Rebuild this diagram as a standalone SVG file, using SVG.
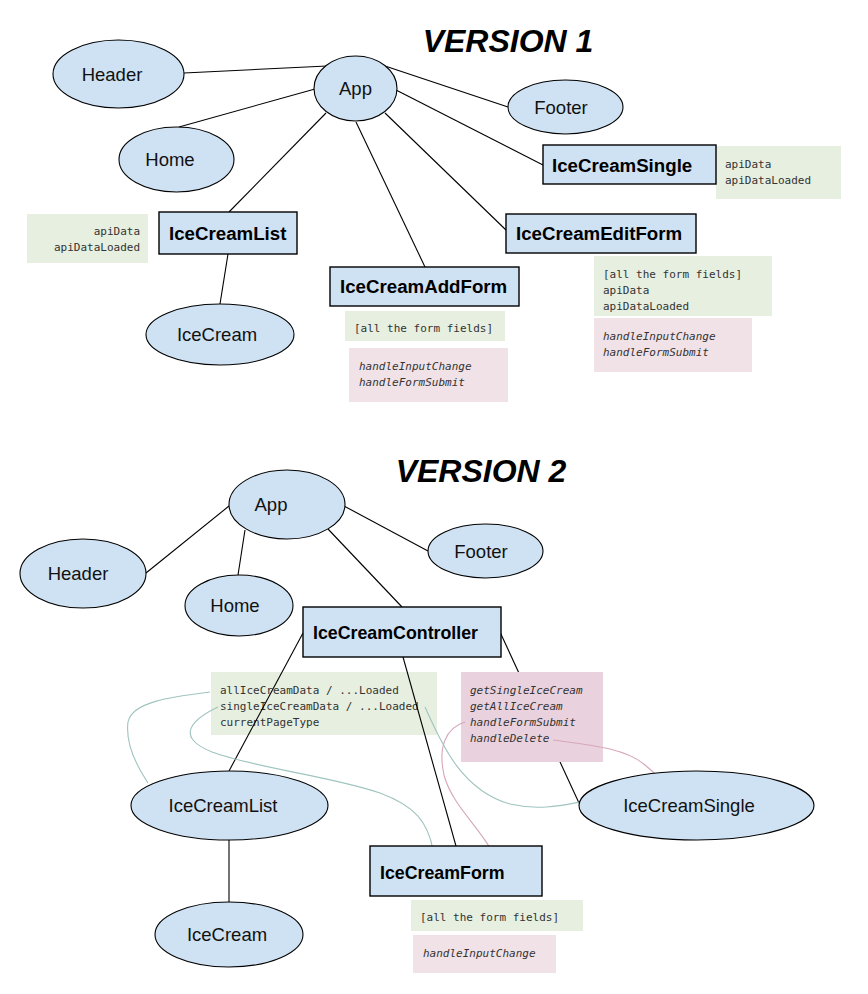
<svg xmlns="http://www.w3.org/2000/svg" width="868" height="994" viewBox="0 0 868 994">
<style>
.bg{fill:#ffffff}
.title{font-family:"Liberation Sans",Arial,sans-serif;font-weight:bold;font-style:italic;font-size:32px;fill:#000;text-anchor:middle}
.ell{fill:#cfe2f3;stroke:#000;stroke-width:1.1}
.box{fill:#cfe2f3;stroke:#000;stroke-width:1.4}
.el{font-family:"Liberation Sans",Arial,sans-serif;font-size:18.5px;fill:#111;text-anchor:middle}
.bl{font-family:"Liberation Sans",Arial,sans-serif;font-weight:bold;font-size:18.7px;fill:#000}
.bl2{font-family:"Liberation Sans",Arial,sans-serif;font-weight:bold;font-size:17.8px;fill:#000}
.grn{fill:#e6efe0}
.pnk{fill:#f1e2e7}
.pnk2{fill:#e9d2dd}
.mono{font-family:"DejaVu Sans Mono","Liberation Mono",monospace;font-size:11px;fill:#333}
.it{font-style:italic}
.ln{stroke:#000;stroke-width:1.1;fill:none}
.teal{stroke:#9fc4bf;stroke-width:1.1;fill:none}
.rose{stroke:#d6a6b8;stroke-width:1.1;fill:none}
</style>
<rect class="bg" x="0" y="0" width="868" height="994"/>

<text class="title" x="508" y="52">VERSION 1</text>
<text class="title" x="481" y="482">VERSION 2</text>

<!-- annotation boxes V1 -->
<g id="v1-notes">
  <rect class="grn" x="27" y="214" width="121" height="49"/>
  <text class="mono" x="140" y="235" text-anchor="end">apiData</text>
  <text class="mono" x="140" y="251" text-anchor="end">apiDataLoaded</text>
  <rect class="grn" x="716" y="146" width="125" height="53"/>
  <text class="mono" x="725" y="168">apiData</text>
  <text class="mono" x="725" y="184">apiDataLoaded</text>
  <rect class="grn" x="594" y="256" width="178" height="60"/>
  <text class="mono" x="603" y="278">[all the form fields]</text>
  <text class="mono" x="603" y="294">apiData</text>
  <text class="mono" x="603" y="310">apiDataLoaded</text>
  <rect class="pnk" x="594" y="318" width="158" height="54"/>
  <text class="mono it" x="603" y="340">handleInputChange</text>
  <text class="mono it" x="603" y="356">handleFormSubmit</text>
  <rect class="grn" x="345" y="311" width="160" height="30"/>
  <text class="mono" x="354" y="332">[all the form fields]</text>
  <rect class="pnk" x="349" y="348" width="159" height="54"/>
  <text class="mono it" x="359" y="370">handleInputChange</text>
  <text class="mono it" x="359" y="386">handleFormSubmit</text>
</g>

<!-- V2 green note (below lines) -->
<g id="v2-state">
  <rect class="grn" x="211" y="672" width="226" height="63"/>
  <text class="mono" x="220" y="694">allIceCreamData / ...Loaded</text>
  <text class="mono" x="220" y="710">singleIceCreamData / ...Loaded</text>
  <text class="mono" x="220" y="726">currentPageType</text>
</g>

<g id="connectors">
  <!-- V1 -->
  <line class="ln" x1="184" y1="73" x2="327" y2="66"/>
  <line class="ln" x1="179" y1="127" x2="315" y2="89"/>
  <line class="ln" x1="229" y1="212" x2="326" y2="113"/>
  <line class="ln" x1="356" y1="122" x2="425" y2="267"/>
  <line class="ln" x1="228" y1="254" x2="220" y2="304"/>
  <line class="ln" x1="385" y1="66" x2="508" y2="107"/>
  <line class="ln" x1="396" y1="90" x2="543" y2="165"/>
  <line class="ln" x1="385" y1="113" x2="506" y2="230"/>
  <!-- V2 -->
  <line class="ln" x1="146" y1="573" x2="229" y2="506"/>
  <line class="ln" x1="245" y1="530" x2="238" y2="575"/>
  <line class="ln" x1="328" y1="529" x2="402" y2="607"/>
  <line class="ln" x1="344" y1="506" x2="428" y2="551"/>
  <line class="ln" x1="303" y1="633" x2="229" y2="771"/>
  <line class="ln" x1="403" y1="657" x2="456" y2="846"/>
  <line class="ln" x1="500" y1="632" x2="579" y2="803"/>
  <line class="ln" x1="229" y1="840" x2="229" y2="902"/>
</g>

<g id="v2-methods">
  <rect class="pnk2" x="461" y="672" width="142" height="90"/>
  <text class="mono it" x="470" y="694">getSingleIceCream</text>
  <text class="mono it" x="470" y="710">getAllIceCream</text>
  <text class="mono it" x="470" y="726">handleFormSubmit</text>
  <text class="mono it" x="470" y="742">handleDelete</text>
</g>

<g id="v2-curves">
  <path class="teal" d="M210,692 C170,697 132,702 128,722 C125,745 138,768 148,783"/>
  <path class="teal" d="M218,707 C195,718 172,736 212,752 C255,768 330,776 380,793 C415,806 428,822 433,850"/>
  <path class="teal" d="M425,707 C440,740 460,790 510,804 C545,812 570,803 592,800"/>
  <path class="rose" d="M465,722 C445,728 438,748 444,775 C452,805 478,825 493,853"/>
  <path class="rose" d="M553,740 C590,745 625,748 645,765 C658,776 664,782 670,787"/>
</g>

<!-- V1 nodes -->
<g id="v1-app"><ellipse class="ell" cx="355.5" cy="88.5" rx="41.5" ry="32.5"/><text class="el" x="355.5" y="95">App</text></g>
<g id="v1-header"><ellipse class="ell" cx="118.5" cy="74" rx="65.5" ry="34"/><text class="el" x="112" y="81">Header</text></g>
<g id="v1-home"><ellipse class="ell" cx="176.5" cy="159.5" rx="57.5" ry="32.5"/><text class="el" x="170" y="166">Home</text></g>
<g id="v1-footer"><ellipse class="ell" cx="565.5" cy="107" rx="57.5" ry="27"/><text class="el" x="561" y="114">Footer</text></g>
<g id="v1-icecream"><ellipse class="ell" cx="220" cy="334.5" rx="74" ry="30.5"/><text class="el" x="217" y="341">IceCream</text></g>
<g id="v1-list"><rect class="box" x="159" y="212" width="138" height="42"/><text class="bl" x="169" y="240">IceCreamList</text></g>
<g id="v1-single"><rect class="box" x="543" y="145" width="173" height="39"/><text class="bl" x="552" y="172">IceCreamSingle</text></g>
<g id="v1-edit"><rect class="box" x="506" y="214" width="190" height="39"/><text class="bl" x="516" y="240">IceCreamEditForm</text></g>
<g id="v1-add"><rect class="box" x="330" y="267" width="189" height="39"/><text class="bl" x="340" y="293">IceCreamAddForm</text></g>

<!-- V2 nodes -->
<g id="v2-app"><ellipse class="ell" cx="287" cy="504.5" rx="58" ry="34.5"/><text class="el" x="271" y="511">App</text></g>
<g id="v2-header"><ellipse class="ell" cx="83" cy="573.5" rx="63" ry="34.5"/><text class="el" x="78" y="580">Header</text></g>
<g id="v2-home"><ellipse class="ell" cx="239" cy="605.5" rx="54" ry="30.5"/><text class="el" x="235" y="612">Home</text></g>
<g id="v2-footer"><ellipse class="ell" cx="485.5" cy="551" rx="57.5" ry="27"/><text class="el" x="481" y="558">Footer</text></g>
<g id="v2-controller"><rect class="box" x="303" y="607" width="198" height="50"/><text class="bl2" x="313" y="639">IceCreamController</text></g>
<g id="v2-list"><ellipse class="ell" cx="229.5" cy="805.5" rx="98.5" ry="34.5"/><text class="el" x="223" y="812">IceCreamList</text></g>
<g id="v2-single"><ellipse class="ell" cx="696.5" cy="805.5" rx="117.5" ry="34.5"/><text class="el" x="689" y="812">IceCreamSingle</text></g>
<g id="v2-icecream"><ellipse class="ell" cx="229" cy="934.5" rx="74" ry="32.5"/><text class="el" x="227" y="941">IceCream</text></g>
<g id="v2-form">
  <rect class="box" x="370" y="846" width="172" height="50"/><text class="bl2" x="380" y="879">IceCreamForm</text>
  <rect class="grn" x="411" y="900" width="172" height="31"/>
  <text class="mono" x="420" y="921">[all the form fields]</text>
  <rect class="pnk" x="413" y="935" width="143" height="38"/>
  <text class="mono it" x="423" y="957">handleInputChange</text>
</g>
</svg>
